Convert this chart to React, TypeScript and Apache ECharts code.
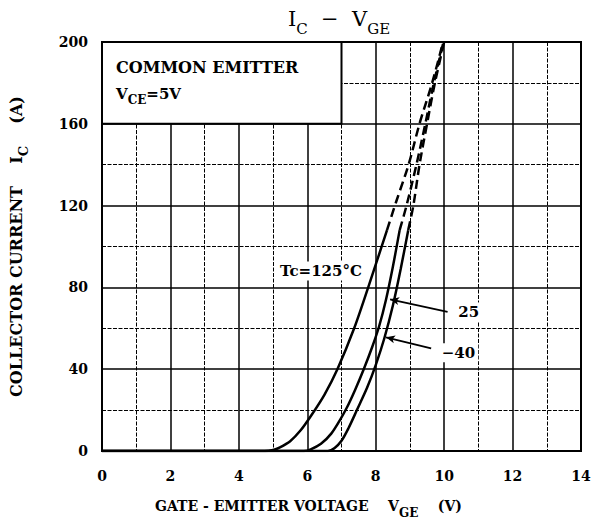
import React, { useEffect, useRef } from "react";
import * as echarts from "echarts";

const FONT = "DejaVu Serif";

const xTickValues = [0, 2, 4, 6, 8, 10, 12, 14];
const yTickValues = [0, 40, 80, 120, 160, 200];

// Tc = 125°C
const tc125Solid = [[0, 0], [4.75, 0], [5.0, 0.5], [5.2, 1.8], [5.5, 4.8], [5.8, 10], [6.1, 17], [6.5, 27.5], [6.88, 40], [7.37, 60], [7.8, 81], [8.33, 108]];
const tc125Dashed = [[8.33, 108], [8.6, 122], [8.96, 140], [9.28, 160], [9.65, 180], [9.97, 200]];
// Tc = 25°C
const tc25Solid = [[0, 0], [5.9, 0], [6.1, 0.8], [6.4, 3.5], [6.7, 8.5], [6.95, 15], [7.15, 21], [7.4, 30], [7.65, 40], [7.9, 51], [8.1, 61], [8.3, 74], [8.5, 90], [8.7, 108]];
const tc25Dashed = [[8.7, 108], [8.9, 120], [9.19, 140], [9.45, 160], [9.7, 180], [9.98, 200]];
// Tc = -40°C
const tcM40Solid = [[0, 0], [6.6, 0], [6.8, 1.5], [7.0, 5], [7.2, 11], [7.45, 20], [7.75, 31], [8.0, 42], [8.25, 55], [8.5, 71], [8.73, 89], [8.95, 108]];
const tcM40Dashed = [[8.95, 108], [9.1, 120], [9.28, 140], [9.5, 160], [9.73, 180], [10.0, 200]];

// annotation anchors (data units)
const legendBox = [[0, 160], [7, 200]];
const label125 = [6.4, 88];
const label25 = [10.72, 68];
const labelM40 = [10.42, 48];
const leader25 = [[10.1, 68], [8.42, 74.2]];
const leaderM40 = [[9.62, 50.2], [8.3, 55.6]];

const black = "#000";

export default function App() {
  const ref = useRef<HTMLDivElement>(null);
  useEffect(() => {
    document.body.style.margin = "0";
    const chart = echarts.init(ref.current!, null, { renderer: "svg" });
    const solid = (data: number[][], name: string) => ({
      type: "line",
      name,
      data,
      showSymbol: false,
      symbol: "none",
      smooth: 0.3,
      lineStyle: { color: black, width: 2.5 },
      z: 5,
    });
    const dashed = (data: number[][], name: string) => ({
      type: "line",
      name,
      data,
      showSymbol: false,
      symbol: "none",
      smooth: 0.3,
      lineStyle: { color: black, width: 2.5, type: [9, 5] },
      z: 5,
    });
    const textLabel = (pos: number[], text: string) => ({
      type: "scatter",
      data: [pos],
      symbolSize: 0,
      silent: true,
      z: 8,
      itemStyle: { color: black, opacity: 1 },
      label: {
        show: true,
        position: "inside",
        formatter: text,
        color: black,
        opacity: 1,
        textBorderWidth: 0,
        textBorderColor: "transparent",
        fontFamily: FONT,
        fontWeight: "bold",
        fontSize: 15,
        backgroundColor: "#fff",
        padding: [2, 3],
      },
    });
    const richM = { fontFamily: FONT, fontWeight: "bold", fontSize: 14, color: black, lineHeight: 20, verticalAlign: "top" };
    const richS = { fontFamily: FONT, fontWeight: "bold", fontSize: 12, color: black, lineHeight: 14, verticalAlign: "bottom" };
    const option: any = {
      animation: false,
      backgroundColor: "#fff",
      title: {
        text: "{m|I}{s|C}{m|  −  V}{s|GE}",
        left: 283,
        top: 3,
        textStyle: {
          fontWeight: "normal",
          rich: {
            m: { fontFamily: FONT, fontWeight: "normal", fontSize: 21, color: black, lineHeight: 28, verticalAlign: "top" },
            s: { fontFamily: FONT, fontWeight: "normal", fontSize: 15, color: black, lineHeight: 17, verticalAlign: "bottom" },
          },
        },
      },
      grid: { left: 97, top: 42, width: 484, height: 409, show: true, borderColor: black, borderWidth: 2, backgroundColor: "#fff" },
      xAxis: {
        type: "value",
        min: xTickValues[0],
        max: xTickValues[xTickValues.length - 1],
        interval: xTickValues[1] - xTickValues[0],
        axisLine: { show: true, lineStyle: { color: black, width: 2 } },
        axisTick: { show: false },
        axisLabel: { color: black, fontFamily: FONT, fontWeight: "bold", fontSize: 14, margin: 18 },
        splitLine: { show: true, lineStyle: { color: black, width: 1.5 } },
        minorTick: { show: false, splitNumber: 2 },
        minorSplitLine: { show: true, lineStyle: { color: black, width: 1, type: [4, 1.5] } },
      },
      yAxis: {
        type: "value",
        min: yTickValues[0],
        max: yTickValues[yTickValues.length - 1],
        interval: yTickValues[1] - yTickValues[0],
        axisLine: { show: true, lineStyle: { color: black, width: 2 } },
        axisTick: { show: false },
        axisLabel: { color: black, fontFamily: FONT, fontWeight: "bold", fontSize: 14, margin: 14 },
        splitLine: { show: true, lineStyle: { color: black, width: 1.5 } },
        minorTick: { show: false, splitNumber: 2 },
        minorSplitLine: { show: true, lineStyle: { color: black, width: 1, type: [4, 1.5] } },
        name: "{m|COLLECTOR CURRENT    I}{s|C}{m|    (A)}",
        nameLocation: "middle",
        nameGap: 72,
        nameRotate: 90,
        nameTextStyle: { rich: { m: { ...richM, fontSize: 16, lineHeight: 22 }, s: { ...richS, fontSize: 13 } } },
      },
      graphic: [
        {
          type: "text",
          left: 155,
          top: 499,
          style: {
            text: "{m|GATE - EMITTER VOLTAGE    V}{s|GE}{m|    (V)}",
            rich: {
              m: { ...richM, fill: black },
              s: { ...richS, fill: black },
            },
          },
        },
        {
          type: "text",
          left: 116,
          top: 59,
          z: 20,
          style: { text: "COMMON EMITTER", fontFamily: FONT, fontWeight: "bold", fontSize: 16, fill: black },
        },
        {
          type: "text",
          left: 116,
          top: 86,
          z: 20,
          style: {
            text: "{m|V}{s|CE}{m|=5V}",
            rich: {
              m: { ...richM, fontSize: 15, fill: black },
              s: { ...richS, fontSize: 12, fill: black },
            },
          },
        },
      ],
      series: [
        {
          type: "line",
          data: [],
          silent: true,
          markArea: {
            silent: true,
            itemStyle: { color: "#fff", borderColor: black, borderWidth: 2 },
            data: [[{ coord: legendBox[0] }, { coord: legendBox[1] }]],
          },
          z: 3,
        },
        solid(tc125Solid, "125"),
        dashed(tc125Dashed, "125d"),
        solid(tc25Solid, "25"),
        dashed(tc25Dashed, "25d"),
        solid(tcM40Solid, "-40"),
        dashed(tcM40Dashed, "-40d"),
        {
          type: "line",
          data: [],
          silent: true,
          z: 6,
          markLine: {
            silent: true,
            symbol: ["none", "arrow"],
            symbolSize: [6, 9],
            label: { show: false },
            lineStyle: { color: black, width: 1.8, type: "solid" },
            data: [
              [{ coord: leader25[0] }, { coord: leader25[1] }],
              [{ coord: leaderM40[0] }, { coord: leaderM40[1] }],
            ],
          },
        },
        textLabel(label125, "Tc=125°C"),
        textLabel(label25, "25"),
        textLabel(labelM40, "−40"),
      ],
    };
    chart.setOption(option);
    return () => chart.dispose();
  }, []);
  return <div ref={ref} style={{ width: 600, height: 519 }} />;
}
